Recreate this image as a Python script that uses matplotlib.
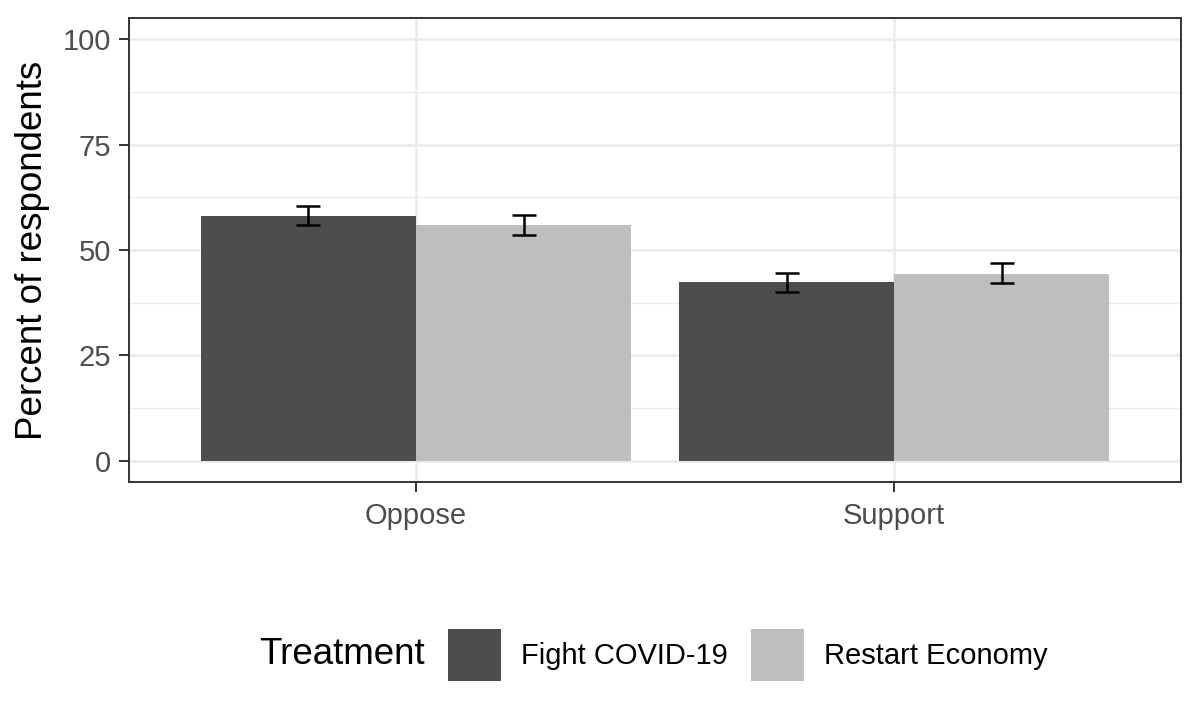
import numpy as np
import matplotlib
matplotlib.use("Agg")
import matplotlib.pyplot as plt
from matplotlib.patches import Patch

plt.rcParams['font.family'] = ['Liberation Sans', 'DejaVu Sans']

# Data
positions = ["Oppose", "Support"]
treatments = ["Fight COVID-19", "Restart Economy"]
fight_pct = [58.1, 42.3]
restart_pct = [55.9, 44.4]
fight_lo = [55.9, 40.1]
fight_hi = [60.4, 44.5]
restart_lo = [53.6, 42.1]
restart_hi = [58.2, 46.8]

colors = ["#4d4d4d", "#bebebe"]
grid_col = "#ebebeb"

fig = plt.figure(figsize=(12, 7.2), dpi=100)
ax = fig.add_axes([129/1200, 1-482/720, 1052/1200, 464/720])

x = np.arange(1, len(positions)+1)
w = 0.45
series = [(fight_pct, fight_lo, fight_hi), (restart_pct, restart_lo, restart_hi)]
for i, (vals, lo, hi) in enumerate(series):
  xs = x + (i - 0.5) * w
  ax.bar(xs, vals, width=w, color=colors[i], zorder=2)
  vals = np.array(vals)
  err = [vals - np.array(lo), np.array(hi) - vals]
  ax.errorbar(xs, vals, yerr=err, fmt="none", ecolor="black", elinewidth=1.8,
              capsize=8.5, capthick=1.8, zorder=3)

#Axes limits and ticks
ax.set_xlim(0.4, 2.6)
ax.set_ylim(-5, 105)
ax.set_xticks(x)
ax.set_xticklabels(positions)
ax.set_yticks([0, 25, 50, 75, 100])
ax.set_yticks([12.5, 37.5, 62.5, 87.5], minor=True)

ax.grid(True, which="major", color=grid_col, linewidth=1.8, zorder=0)
ax.grid(True, which="minor", axis="y", color=grid_col, linewidth=0.9, zorder=0)
ax.set_axisbelow(True)

ax.tick_params(axis="both", which="major", labelsize=21, labelcolor="#4d4d4d",
               color="#333333", length=7.5, width=1.4, pad=5.5)
ax.tick_params(axis="x", which="major", pad=7)
ax.tick_params(axis="y", which="minor", length=0)
for s in ax.spines.values():
  s.set_color("#333333")
  s.set_linewidth(1.4)

ax.set_ylabel("Percent of respondents", fontsize=26.5)
ax.yaxis.set_label_coords((50-129)/1052, 0.5)

#Legend at the bottom
fig.text(259/1200, 1-655/720, "Treatment", fontsize=26.5, va="center", ha="left")
handles = [Patch(facecolor=c, edgecolor="none") for c in colors]
fig.legend(handles, treatments, loc="center left", bbox_to_anchor=(448/1200, 1-655/720),
           ncol=2, frameon=False, fontsize=21, handlelength=1.81, handleheight=2.4,
           handletextpad=0.7, columnspacing=0.8, borderpad=0, borderaxespad=0)

fig.savefig("out.png", dpi=100)
